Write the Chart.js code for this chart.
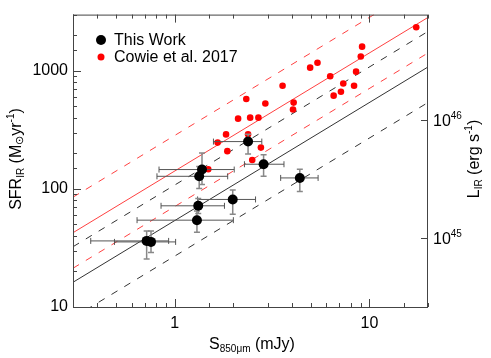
<!DOCTYPE html>
<html>
<head>
<meta charset="utf-8">
<script src="https://cdn.jsdelivr.net/npm/chart.js@4.4.0/dist/chart.umd.min.js"></script>
<style>
  html, body { margin: 0; padding: 0; background: #fff; }
</style>
</head>
<body>
<canvas id="chart" width="491" height="358"></canvas>
<script>
const FONT = '"Liberation Sans", Arial, Helvetica, sans-serif';

// This Work (S850 in mJy, SFR in Msun/yr) with error ranges
const workS = [2.38, 1.38, 1.335, 2.86, 4.39, 1.985, 1.32, 1.30, 0.717, 0.755];
const workSFR = [252, 146, 128, 162, 124, 81.5, 72, 54.4, 36.3, 35.6];
const workSLo = [1.58, 0.83, 0.81, 2.28, 3.50, 1.31, 0.85, 0.64, 0.37, 0.49];
const workSHi = [2.80, 2.02, 1.87, 3.64, 5.45, 2.60, 1.80, 2.00, 0.93, 1.01];
const workSFRLo = [198, 109, 101, 128, 95, 61, 62, 43, 25.5, 29];
const workSFRHi = [291, 202, 155, 195, 147, 98, 83, 65, 44, 44];

// Cowie et al. 2017
const cowieS = [17.4, 9.17, 9.03, 5.41, 4.96, 6.29, 8.54, 7.34, 8.34, 7.14, 6.55, 3.58, 2.33,
  2.92, 4.08, 4.05, 2.115, 2.44, 2.69, 1.834, 2.38, 1.66, 1.862, 2.77, 2.50, 1.486];
const cowieSFR = [2345, 1605, 1325, 1173, 1066, 901, 986, 783, 748, 667, 617, 748, 579,
  529, 539, 471, 394, 402, 402, 290, 291, 247, 209, 224, 176, 147];

// reference relations, end points at S = 0.3 and 20 mJy
const lineS = [0.3, 20];
const blackMid = [16.2, 1080];
const blackUp = [32.4, 2160];
const blackDown = [8.1, 540];
const redMid = [42.6, 2840];
const redUp = [85.2, 5680];
const redDown = [21.3, 1420];

const xLabels = [1, 10];
const yLabels = [10, 100, 1000];
const lirTicks = [1e45, 1e46];
const lirExp = ['45', '46'];

const pts = (xs, ys) => xs.map((x, i) => ({ x: x, y: ys[i] }));
const near = (v, list) => list.some(t => Math.abs(v - t) / t < 1e-6);
const isPow10 = v => Math.abs(Math.log10(v) - Math.round(Math.log10(v))) < 1e-6;

function relation(vals, color, dash) {
    return {
        data: pts(lineS, vals),
        showLine: true,
        borderColor: color,
        borderWidth: 1,
        borderDash: dash,
        pointRadius: 0,
        fill: false
    };
}

// draws a string made of pieces of different sizes / baselines, centred on (cx, cy)
function richText(ctx, parts, cx, cy, angle) {
    ctx.save();
    ctx.translate(cx, cy);
    ctx.rotate(angle);
    let w = 0;
    parts.forEach(p => { ctx.font = p[1] + 'px ' + FONT; w += ctx.measureText(p[0]).width; });
    let x = -w / 2;
    ctx.fillStyle = '#000';
    ctx.textBaseline = 'alphabetic';
    ctx.textAlign = 'left';
    parts.forEach(p => {
        ctx.font = p[1] + 'px ' + FONT;
        ctx.fillText(p[0], x, p[2]);
        x += ctx.measureText(p[0]).width;
    });
    ctx.restore();
}

const errorBars = {
    id: 'errorBars',
    beforeDatasetDraw(chart, args) {
        if (args.index !== 0) return;
        const { ctx, scales: { x, y } } = chart;
        ctx.save();
        workS.forEach((s, i) => {
            const px = x.getPixelForValue(s);
            const py = y.getPixelForValue(workSFR[i]);
            const x0 = x.getPixelForValue(workSLo[i]);
            const x1 = x.getPixelForValue(workSHi[i]);
            const y0 = y.getPixelForValue(workSFRLo[i]);
            const y1 = y.getPixelForValue(workSFRHi[i]);
            ctx.strokeStyle = '#555';
            ctx.lineWidth = 1;
            ctx.beginPath();
            ctx.moveTo(x0, py); ctx.lineTo(x1, py);
            ctx.moveTo(x0, py - 3); ctx.lineTo(x0, py + 3);
            ctx.moveTo(x1, py - 3); ctx.lineTo(x1, py + 3);
            ctx.stroke();
            ctx.strokeStyle = '#888';
            ctx.lineWidth = 1.5;
            ctx.beginPath();
            ctx.moveTo(px, y0); ctx.lineTo(px, y1);
            ctx.moveTo(px - 3, y0); ctx.lineTo(px + 3, y0);
            ctx.moveTo(px - 3, y1); ctx.lineTo(px + 3, y1);
            ctx.stroke();
        });
        ctx.restore();
    }
};

const decorations = {
    id: 'decorations',
    afterDraw(chart) {
        const { ctx, chartArea: a, scales: { x, y, y2 } } = chart;
        ctx.save();
        ctx.strokeStyle = '#444';
        ctx.lineWidth = 1;
        ctx.strokeRect(a.left + 0.5, a.top + 0.5, a.right - a.left - 1, a.bottom - a.top);

        // inward ticks
        ctx.beginPath();
        x.ticks.forEach(t => {
            const p = Math.round(x.getPixelForValue(t.value)) + 0.5;
            const len = isPow10(t.value) ? 8 : 4;
            ctx.moveTo(p, a.bottom); ctx.lineTo(p, a.bottom - len);
            ctx.moveTo(p, a.top); ctx.lineTo(p, a.top + len);
        });
        y.ticks.forEach(t => {
            const p = Math.round(y.getPixelForValue(t.value)) + 0.5;
            const len = isPow10(t.value) ? 8 : 4;
            ctx.moveTo(a.left, p); ctx.lineTo(a.left + len, p);
        });
        lirTicks.forEach(v => {
            const p = Math.round(y2.getPixelForValue(v)) + 0.5;
            ctx.moveTo(a.right, p); ctx.lineTo(a.right - 7, p);
        });
        ctx.stroke();

        // right axis labels
        ctx.fillStyle = '#000';
        ctx.textAlign = 'left';
        ctx.textBaseline = 'alphabetic';
        lirTicks.forEach((v, i) => {
            const p = y2.getPixelForValue(v);
            ctx.font = '16px ' + FONT;
            ctx.fillText('10', a.right + 5, p + 6);
            const w = ctx.measureText('10').width;
            ctx.font = '10px ' + FONT;
            ctx.fillText(lirExp[i], a.right + 5 + w, p - 1);
        });

        // axis titles
        richText(ctx, [['SFR', 16, 6], ['IR', 10, 9], [' (M', 16, 6], ['\u2299', 11, 8],
            ['yr', 16, 6], ['-1', 10, -1], [')', 16, 6]], 15, 159, -Math.PI / 2);
        richText(ctx, [['L', 16, 6], ['IR', 10, 9], [' (erg s', 16, 6], ['-1', 10, -1],
            [')', 16, 6]], 473, 159, -Math.PI / 2);
        richText(ctx, [['S', 16, 6], ['850\u03bcm', 10, 9], [' (mJy)', 16, 6]], 252, 343, 0);

        // legend
        ctx.fillStyle = '#000';
        ctx.beginPath(); ctx.arc(101, 40, 5, 0, Math.PI * 2); ctx.fill();
        ctx.fillStyle = '#ff0000';
        ctx.beginPath(); ctx.arc(101, 57, 3.5, 0, Math.PI * 2); ctx.fill();
        ctx.fillStyle = '#000';
        ctx.font = '16px ' + FONT;
        ctx.fillText('This Work', 114, 45);
        ctx.fillText('Cowie et al. 2017', 114, 62);
        ctx.restore();
    }
};

const tickFont = { family: FONT, size: 16 };

new Chart(document.getElementById('chart'), {
    type: 'scatter',
    data: {
        datasets: [
            { data: pts(workS, workSFR), backgroundColor: '#000', borderWidth: 0, pointRadius: 5 },
            { data: pts(cowieS, cowieSFR), backgroundColor: '#ff0000', borderWidth: 0, pointRadius: 3.3 },
            relation(blackMid, '#333', []),
            relation(blackUp, '#333', [7, 8]),
            relation(blackDown, '#333', [7, 8]),
            relation(redMid, '#ff4040', []),
            relation(redUp, '#ff4040', [7, 8]),
            relation(redDown, '#ff4040', [7, 8])
        ]
    },
    options: {
        responsive: false,
        animation: false,
        layout: { padding: { top: 10, left: 0, right: 0, bottom: 0 } },
        plugins: { legend: { display: false }, tooltip: { enabled: false } },
        scales: {
            x: {
                type: 'logarithmic',
                position: 'bottom',
                min: 0.3,
                max: 20,
                grid: { display: false, drawTicks: false },
                border: { display: false },
                ticks: {
                    autoSkip: false, maxRotation: 0, padding: 7, color: '#000', font: tickFont,
                    callback: v => near(v, xLabels) ? String(Math.round(v)) : ''
                },
                afterFit: s => { s.height = 51; }
            },
            y: {
                type: 'logarithmic',
                position: 'left',
                min: 10,
                max: 3000,
                grid: { display: false, drawTicks: false },
                border: { display: false },
                ticks: {
                    autoSkip: false, padding: 5, color: '#000', font: tickFont,
                    callback: v => near(v, yLabels) ? String(Math.round(v)) : ''
                },
                afterFit: s => { s.width = 73; }
            },
            y2: {
                type: 'logarithmic',
                position: 'right',
                min: 2.6e44,
                max: 7.8e46,
                grid: { display: false, drawTicks: false },
                border: { display: false },
                ticks: { display: false },
                afterFit: s => { s.width = 63; }
            }
        }
    },
    plugins: [errorBars, decorations]
});
</script>
</body>
</html>
